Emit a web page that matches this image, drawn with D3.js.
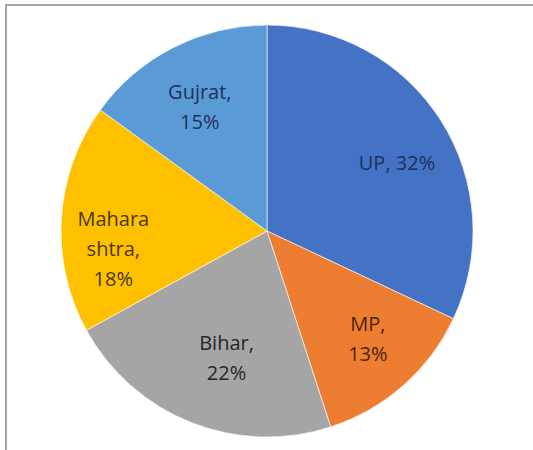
<!DOCTYPE html>
<html>
<head>
<meta charset="utf-8">
<script src="https://cdn.jsdelivr.net/npm/d3@7"></script>
<style>
    body { margin: 0; background: #fff; }
    svg { display: block; }
</style>
</head>
<body>
<div id="chart"></div>
<script>
    // slices, clockwise from 12 o'clock
    const states = ['UP', 'MP', 'Bihar', 'Maharashtra', 'Gujrat'];
    const shares = [32, 13, 22, 18, 15];
    // how each label is broken over lines (as in the picture)
    const labelLines = [
        ['UP, 32%'],
        ['MP,', '13%'],
        ['Bihar,', '22%'],
        ['Mahara', 'shtra,', '18%'],
        ['Gujrat,', '15%']
    ];
    const fills = ['#4472C4', '#ED7D31', '#A5A5A5', '#FFC000', '#5B9BD5'];
    const textColors = ['#1F2F5E', '#4A2408', '#262626', '#4A3800', '#1F2F5E'];
    // small nudges off the arc centroid, like excel's label placement
    const labelNudge = [[5, 11], [3, -3], [14, -11], [-6, 27], [0, 8]];

    const width = 533, height = 450;
    const cx = 267, cy = 231, radius = 206;

    const svg = d3.select('#chart').append('svg')
        .attr('width', width)
        .attr('height', height);

    // chart frame (runs off the right and bottom edges)
    svg.append('rect')
        .attr('x', 6).attr('y', 5)
        .attr('width', width + 10).attr('height', height + 10)
        .attr('fill', 'none')
        .attr('stroke', '#a6a6a6')
        .attr('stroke-width', 2);

    const data = states.map((s, i) => ({state: s, value: shares[i], lines: labelLines[i]}));

    const pie = d3.pie().sort(null).value(d => d.value);
    const arc = d3.arc().innerRadius(0).outerRadius(radius);
    const labelArc = d3.arc().innerRadius(148).outerRadius(148);

    const g = svg.append('g').attr('transform', `translate(${cx},${cy})`);

    const arcs = pie(data);

    g.selectAll('path')
        .data(arcs)
        .join('path')
        .attr('d', arc)
        .attr('fill', (d, i) => fills[i])
        .attr('stroke', '#fff')
        .attr('stroke-opacity', 0.6)
        .attr('stroke-width', 1);

    const lineH = 30;
    g.selectAll('text')
        .data(arcs)
        .join('text')
        .attr('transform', (d, i) => {
            const [x, y] = labelArc.centroid(d);
            return `translate(${x + labelNudge[i][0]},${y + labelNudge[i][1]})`;
        })
        .attr('text-anchor', 'middle')
        .attr('font-family', '"Open Sans", sans-serif')
        .attr('font-size', 20)
        .attr('fill', (d, i) => textColors[i])
        .each(function (d) {
            const n = d.data.lines.length;
            d3.select(this).selectAll('tspan')
                .data(d.data.lines)
                .join('tspan')
                .attr('x', 0)
                .attr('y', (l, j) => (j - (n - 1) / 2) * lineH)
                .attr('dy', '0.35em')
                .text(l => l);
        });
</script>
</body>
</html>
